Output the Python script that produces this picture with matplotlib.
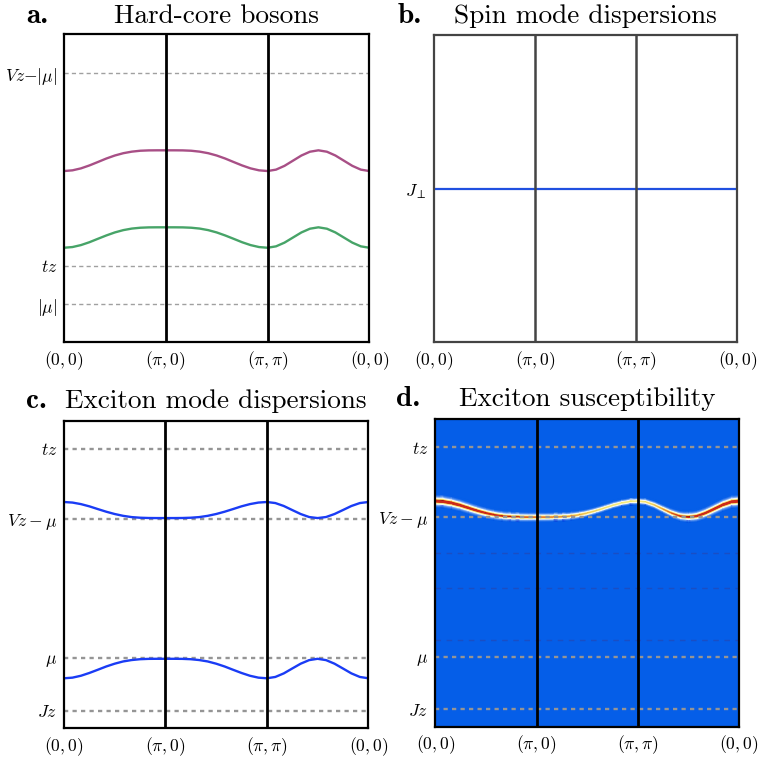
import numpy as np
import matplotlib
matplotlib.use("Agg")
import matplotlib.pyplot as plt
from matplotlib.colors import LinearSegmentedColormap

plt.rcParams['mathtext.fontset'] = 'cm'
plt.rcParams['font.family'] = ['cmr10', 'DejaVu Serif']

# ---------------- data ----------------
# momentum path index: 12 steps per segment (0,0)->(pi,0)->(pi,pi)->(0,0)
path_ticks = [0, 1, 2, 3]
path_labels = [r'$(0,0)$', r'$(\pi,0)$', r'$(\pi,\pi)$', r'$(0,0)$']
steps_per_segment = 12

# panel a: hard-core boson bands
boson_upper = [2.447, 2.457, 2.485, 2.527, 2.576, 2.626, 2.669, 2.702, 2.724, 2.737, 2.742, 2.743,
               2.743, 2.743, 2.742, 2.737, 2.724, 2.702, 2.669, 2.626, 2.576, 2.527, 2.485, 2.457,
               2.447, 2.467, 2.521, 2.595, 2.669, 2.723, 2.743, 2.723, 2.669, 2.595, 2.521, 2.467, 2.447]
boson_lower = [1.351, 1.361, 1.389, 1.430, 1.479, 1.527, 1.570, 1.603, 1.625, 1.637, 1.642, 1.643,
               1.643, 1.643, 1.642, 1.637, 1.625, 1.603, 1.570, 1.527, 1.479, 1.430, 1.389, 1.361,
               1.351, 1.371, 1.424, 1.497, 1.570, 1.623, 1.643, 1.623, 1.570, 1.497, 1.424, 1.371, 1.351]
a_levels = [3.843, 1.094, 0.547]
a_level_labels = [r'$Vz{-}|\mu|$', r'$tz$', r'$|\mu|$']

# panel b: spin mode
spin_mode = [1.0] * 37
b_levels = [1.0]
b_level_labels = [r'$J_\perp$']

# panel c: exciton bands
exciton_upper = [3.240, 3.232, 3.210, 3.178, 3.139, 3.101, 3.068, 3.042, 3.024, 3.015, 3.011, 3.010,
                 3.010, 3.010, 3.011, 3.015, 3.024, 3.042, 3.068, 3.101, 3.139, 3.178, 3.210, 3.232,
                 3.240, 3.225, 3.183, 3.125, 3.068, 3.025, 3.010, 3.025, 3.068, 3.125, 3.183, 3.225, 3.240]
exciton_lower = [0.716, 0.725, 0.752, 0.792, 0.838, 0.885, 0.925, 0.957, 0.977, 0.989, 0.994, 0.995,
                 0.995, 0.995, 0.994, 0.989, 0.977, 0.957, 0.925, 0.885, 0.838, 0.792, 0.752, 0.725,
                 0.716, 0.735, 0.786, 0.856, 0.925, 0.976, 0.995, 0.976, 0.925, 0.856, 0.786, 0.735, 0.716]
c_levels = [4.0, 3.0, 1.0, 0.25]
c_level_labels = [r'$tz$', r'$Vz-\mu$', r'$\mu$', r'$Jz$']

# panel d: spectral weight along the upper exciton band
exciton_weight = [1.50, 1.50, 1.45, 1.40, 1.32, 1.24, 1.16, 1.08, 1.02, 0.97, 0.93, 0.90,
                  0.86, 0.85, 0.82, 0.78, 0.74, 0.70, 0.65, 0.61, 0.58, 0.56, 0.55, 0.55,
                  0.55, 0.58, 0.65, 0.75, 0.88, 1.00, 1.10, 1.20, 1.30, 1.38, 1.44, 1.48, 1.50]
d_faint_levels = [2.48, 1.99, 1.24]

k = np.arange(len(boson_upper)) / steps_per_segment

# ---------------- figure ----------------
fig = plt.figure(figsize=(7.58, 7.58), dpi=100)
ax_a = fig.add_axes([0.0844, 0.5484, 0.4028, 0.4063])
ax_b = fig.add_axes([0.5726, 0.5484, 0.4001, 0.4054])
ax_c = fig.add_axes([0.0844, 0.0392, 0.4015, 0.4054])
ax_d = fig.add_axes([0.5743, 0.0413, 0.4007, 0.4055])

tick_fs = 12.6
title_fs = 19.6
letter_fs = 21


def style(ax, ylim, levels, labels, frame_color='black', title='', letter='', lx=-0.125, ly=1.038, tpad=8.5):
    ax.set_xlim(0, 3)
    ax.set_ylim(*ylim)
    ax.set_xticks(path_ticks)
    ax.set_xticklabels(path_labels, fontsize=tick_fs)
    ax.set_yticks(levels)
    ax.set_yticklabels(labels, fontsize=tick_fs)
    ax.tick_params(length=0, pad=5)
    for s in ax.spines.values():
        s.set_linewidth(1.6)
        s.set_color(frame_color)
    ax.set_title(title, fontsize=title_fs, family='cmr10', pad=tpad)
    ax.text(lx, ly, letter, transform=ax.transAxes, fontsize=letter_fs, family='cmb10', va='baseline', ha='left')


# panel a
for y in a_levels:
    ax_a.axhline(y, color='#a0a0a0', lw=1.0, ls=(0, (3, 2.3)), zorder=1)
ax_a.plot(k, boson_upper, color='#a84f86', lw=1.7, zorder=2)
ax_a.plot(k, boson_lower, color='#47a468', lw=1.7, zorder=2)
for x in (1, 2):
    ax_a.axvline(x, color='black', lw=2.0, zorder=3)
style(ax_a, (0, 4.4), a_levels, a_level_labels, title='Hard-core bosons', letter='a.')

# panel b
ax_b.plot(k, spin_mode, color='#2050e0', lw=1.6, zorder=2)
for x in (1, 2):
    ax_b.axvline(x, color='#444444', lw=1.8, zorder=3)
style(ax_b, (0, 2), b_levels, b_level_labels, frame_color='#444444', title='Spin mode dispersions', letter='b.', lx=-0.119)

# panel c
for y in c_levels:
    ax_c.axhline(y, color='#959595', lw=1.7, ls=(0, (1.8, 1.8)), zorder=1)
ax_c.plot(k, exciton_upper, color='#1a3cf5', lw=1.7, zorder=2)
ax_c.plot(k, exciton_lower, color='#1a3cf5', lw=1.7, zorder=2)
for x in (1, 2):
    ax_c.axvline(x, color='black', lw=2.0, zorder=3)
style(ax_c, (0, 4.4), c_levels, c_level_labels, title='Exciton mode dispersions', letter='c.', ly=1.042, tpad=9.5)

# panel d
bg_blue = '#055ee8'
ax_d.set_facecolor(bg_blue)
cmap = LinearSegmentedColormap.from_list('exc', [
    (0.0, bg_blue), (0.07, bg_blue), (0.3, '#ffffff'), (0.55, '#f7ec7a'),
    (0.75, '#f29a3c'), (0.93, '#d8381c'), (1.0, '#cc2a1a')])
offsets = np.linspace(-0.12, 0.12, 97)
gamma = 0.022
E = np.asarray(exciton_upper)
W = np.asarray(exciton_weight)
X = np.tile(k, (len(offsets), 1))
Y = E[None, :] + offsets[:, None]
Z = W[None, :] / (1.0 + (offsets[:, None] / gamma) ** 2)
ax_d.pcolormesh(X, Y, np.clip(Z, 0, 1), cmap=cmap, vmin=0, vmax=1, shading='gouraud', zorder=1, rasterized=True)
for y in d_faint_levels:
    ax_d.axhline(y, color='#1a4ec4', lw=1.0, ls=(0, (4, 4)), zorder=1.5)
for y in c_levels:
    ax_d.axhline(y, color='#959595', lw=1.7, ls=(0, (1.8, 1.8)), zorder=2)
for x in (1, 2):
    ax_d.axvline(x, color='black', lw=2.0, zorder=3)
style(ax_d, (0, 4.4), c_levels, c_level_labels, title='Exciton susceptibility', letter='d.', lx=-0.129, ly=1.042, tpad=9.5)

fig.savefig('out.png', dpi=100)
